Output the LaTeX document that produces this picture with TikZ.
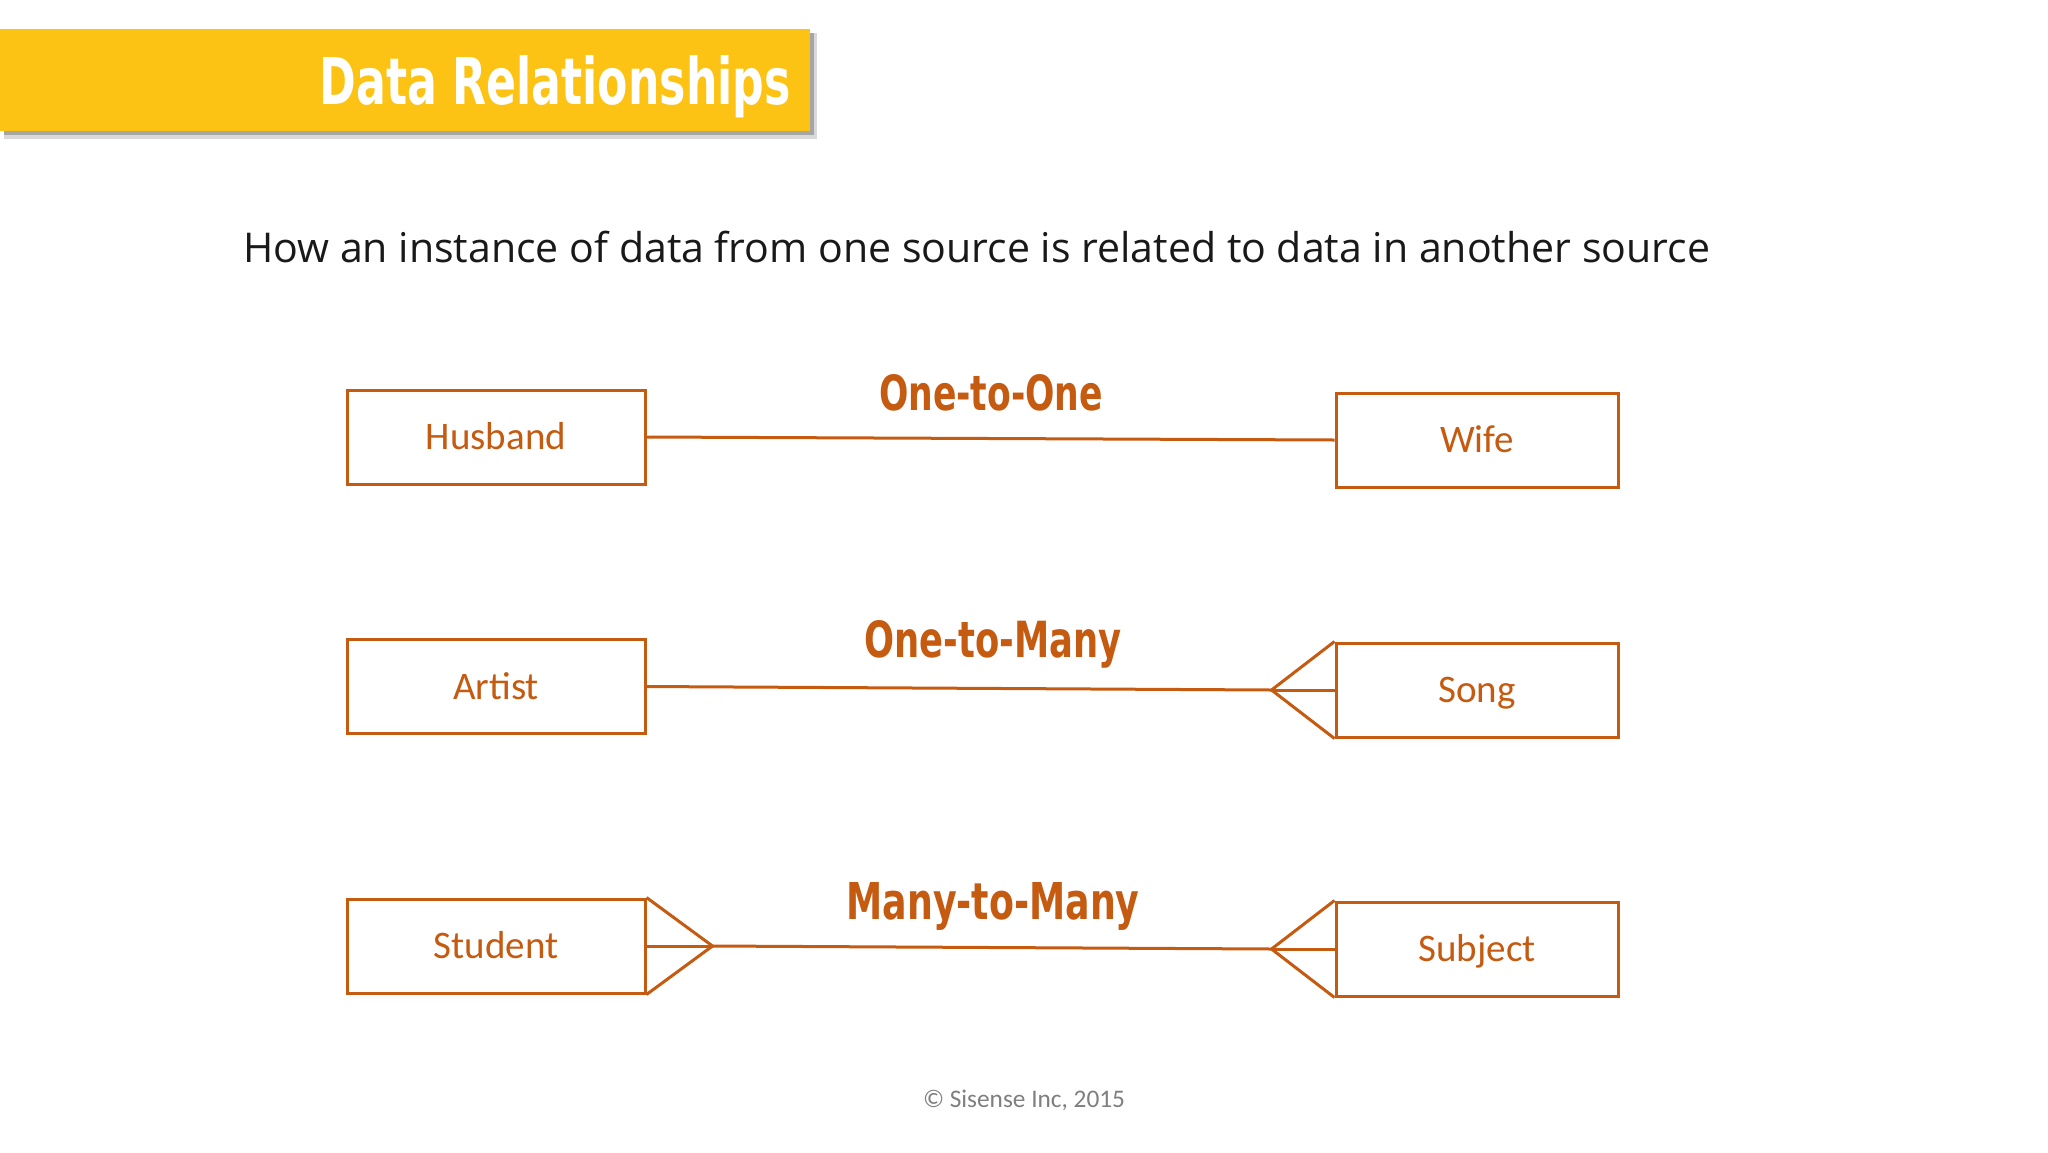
\documentclass[tikz,border=0pt]{standalone}
\usepackage{graphicx}
\usepackage{fontspec}
\setmainfont{Carlito}
\newfontfamily\titlefont{DejaVu Sans Condensed}
\newfontfamily\subfont{Open Sans}
\usetikzlibrary{calc}
\definecolor{banner}{HTML}{FCC314}
\definecolor{rust}{HTML}{C55A11}
\definecolor{footgray}{HTML}{7F7F7F}
\begin{document}
\begin{tikzpicture}[x=1pt,y=-1pt,
  entity/.style={draw=rust, line width=3pt, minimum height=94pt, inner sep=0pt,
    text=rust, font=\fontsize{39}{39}\selectfont, text height=25pt, text depth=0pt},
  conn/.style={draw=rust, line width=3pt, line join=miter},
  rel/.style={text=rust, inner sep=0pt, anchor=base},
]
\useasboundingbox (0,0) rectangle (2048,1152);
\fill[white] (0,0) rectangle (2048,1152);
% banner with shadow
\fill[black!15] (4,33) rectangle (817,139);
\fill[black!35] (4,33) rectangle (814,135);
\fill[banner] (0,29) rectangle (810,131);
\node[anchor=base east, inner sep=0pt, text=white] (title) at (791,104)
  {\resizebox{471pt}{49pt}{\titlefont\bfseries Data Relationships}};
% subtitle
\node[anchor=base west, inner sep=0pt, text=black!90] (sub) at (243,262)
  {\resizebox{1467pt}{!}{\subfont How an instance of data from one source is related to data in another source}};
% entities
\node[entity, minimum width=298pt] (husband) at (496,437) {Husband};
\node[entity, minimum width=282pt] (wife) at (1477,440) {Wife};
\node[entity, minimum width=298pt] (artist) at (496,686.5) {Artist};
\node[entity, minimum width=282pt] (song) at (1477,690) {Song};
\node[entity, minimum width=298pt] (student) at (496,946) {Student};
\node[entity, minimum width=282pt] (subject) at (1477,949) {Subject};
% relation labels
\node[rel] (l1) at (991,410) {\resizebox{224pt}{36pt}{\titlefont\bfseries One-to-One}};
\node[rel] (l2) at (993,657) {\resizebox{257pt}{37pt}{\titlefont\bfseries One-to-Many}};
\node[rel] (l3) at (993,919) {\resizebox{293pt}{37pt}{\titlefont\bfseries Many-to-Many}};
% one-to-one
\draw[conn] (husband.east) -- (wife.west);
% one-to-many
\coordinate (songapex) at ($(song.west)+(-63,0)$);
\draw[conn] (artist.east) -- (songapex);
\draw[conn] (song.north west) -- (songapex) -- (song.south west);
\draw[conn] (songapex) -- (song.west);
% many-to-many
\coordinate (studapex) at ($(student.east)+(66,0)$);
\coordinate (subjapex) at ($(subject.west)+(-63,0)$);
\draw[conn] (studapex) -- (subjapex);
\draw[conn] (student.north east) -- (studapex) -- (student.south east);
\draw[conn] (student.east) -- (studapex);
\draw[conn] (subject.north west) -- (subjapex) -- (subject.south west);
\draw[conn] (subjapex) -- (subject.west);
% footer
\node[anchor=base, inner sep=0pt, text=footgray] (foot) at (1024,1107)
  {\resizebox{202pt}{!}{\textcopyright{} Sisense Inc, 2015}};
\end{tikzpicture}
\end{document}
